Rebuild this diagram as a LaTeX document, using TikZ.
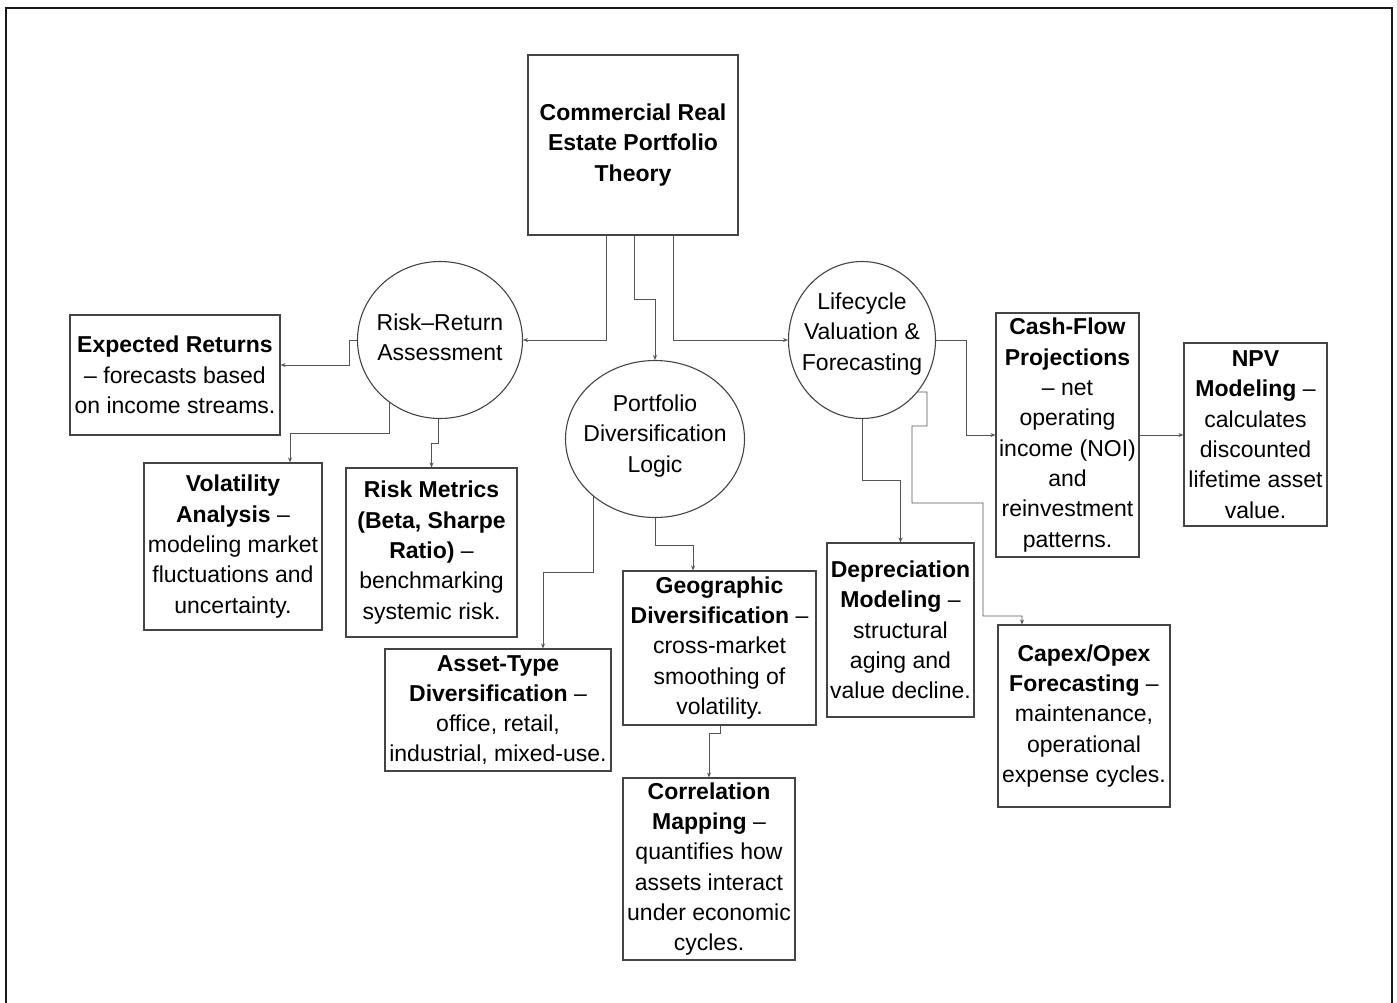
\documentclass[tikz,border=0pt]{standalone}
\usepackage{fontspec}
\setmainfont{Liberation Sans}
\usetikzlibrary{shapes.geometric,arrows.meta}
\pgfdeclarelayer{background}
\pgfsetlayers{background,main}
\definecolor{edgecol}{HTML}{555555}
\definecolor{bordcol}{HTML}{444444}
\begin{document}
\begin{tikzpicture}[x=1pt,y=-1pt,
  every node/.style={font=\fontsize{23}{30.3}\selectfont, text=black},
  box/.style={draw=bordcol, line width=1.1pt, fill=white, inner sep=0pt, align=center},
  oval/.style={ellipse, draw=bordcol, line width=1.1pt, fill=white, inner sep=0pt},
  lbl/.style={inner sep=0pt, align=center},
  conn/.style={draw=edgecol, line width=0.9pt, -{Stealth[length=5pt,width=4pt]}}]
\useasboundingbox (0,0) rectangle (1397,1002);
\begin{scope}
  \clip (0,0) rectangle (1397,1002);
  \draw[line width=2.6pt, black!90] (6,8) rectangle (1392,1030);
\end{scope}

% boxes
\node[box, minimum width=210pt, minimum height=180pt] (root) at (633,145)
  {\textbf{Commercial Real}\\\textbf{Estate Portfolio}\\\textbf{Theory}};
\node[box, minimum width=210pt, minimum height=120pt] (exp) at (175,375)
  {\textbf{Expected Returns}\\– forecasts based\\on income streams.};
\node[box, minimum width=178pt, minimum height=167pt] (vol) at (233,546.5)
  {\textbf{Volatility}\\\textbf{Analysis} –\\modeling market\\fluctuations and\\uncertainty.};
\node[box, minimum width=171pt, minimum height=169pt] (rm) at (431.5,552.5)
  {\textbf{Risk Metrics}\\\textbf{(Beta, Sharpe}\\\textbf{Ratio)} –\\benchmarking\\systemic risk.};
\node[box, minimum width=226pt, minimum height=122pt] (at) at (498,710)
  {\textbf{Asset-Type}\\\textbf{Diversification} –\\office, retail,\\industrial, mixed-use.};
\node[box, minimum width=193pt, minimum height=154pt] (geo) at (719.5,648)
  {\textbf{Geographic}\\\textbf{Diversification} –\\cross-market\\smoothing of\\volatility.};
\node[box, minimum width=172pt, minimum height=182pt] (corr) at (709,869)
  {\textbf{Correlation}\\\textbf{Mapping} –\\quantifies how\\assets interact\\under economic\\cycles.};
\node[box, minimum width=147pt, minimum height=174pt] (dep) at (900.5,630)
  {\textbf{Depreciation}\\\textbf{Modeling} –\\structural\\aging and\\value decline.};
\node[box, minimum width=172pt, minimum height=182pt] (capex) at (1084,716)
  {\textbf{Capex/Opex}\\\textbf{Forecasting} –\\maintenance,\\operational\\expense cycles.};
\node[box, minimum width=143pt, minimum height=244pt] (cf) at (1067.5,435)
  {\textbf{Cash-Flow}\\\textbf{Projections}\\– net\\operating\\income (NOI)\\and\\reinvestment\\patterns.};
\node[box, minimum width=143pt, minimum height=183pt] (npv) at (1255.5,434.5)
  {\textbf{NPV}\\\textbf{Modeling} –\\calculates\\discounted\\lifetime asset\\value.};

% ellipses
\node[oval, minimum width=165pt, minimum height=157pt] (rr) at (440,340) {};
\node[lbl] (rrt) at (440,337) {Risk–Return\\Assessment};
\node[oval, minimum width=179pt, minimum height=157pt] (pd) at (655,439) {};
\node[lbl] (pdt) at (655,436) {Portfolio\\Diversification\\Logic};
\node[oval, minimum width=147pt, minimum height=157pt] (lc) at (862,340) {};
\node[lbl] (lct) at (862,334) {Lifecycle\\Valuation \&\\Forecasting};

% connectors
\begin{pgfonlayer}{background}
\draw[conn] ([xshift=-27pt]root.south) |- (rr.east);
\draw[conn] ([xshift=1pt]root.south) -- (634,299) -| (pd.north);
\draw[conn] ([xshift=40pt]root.south) |- (lc.west);
\draw[conn] (rr.west) -- (349,340) -- (349,365) -- ([yshift=10pt]exp.east);
\draw[conn] ([xshift=-51pt]rr.center) -- (389,433) -| ([xshift=57pt]vol.north);
\draw[conn] ([xshift=-2pt]rr.center) -- (438,443) -| (rm.north);
\draw[conn] ([xshift=-62pt]pd.center) -- (593,572) -| ([xshift=45pt]at.north);
\draw[conn] (pd.south) -- (655,545) -| ([xshift=-26.5pt]geo.north);
\draw[conn] ([xshift=0.5pt]geo.south) -- (720,733) -| (corr.north);
\draw[conn] (lc.south) -- (862,480) -| (dep.north);
\draw[conn] (lc.-43) -- (927,392) -- (927,426) -- (912,426) -- (912,503) -- (983,503) -- (983,616) -| ([xshift=-62pt]capex.north);
\draw[conn] (lc.east) -- (966,340) |- (cf.west);
\draw[conn] (cf.east) -- (cf.east -| npv.west);
\end{pgfonlayer}
\end{tikzpicture}
\end{document}
